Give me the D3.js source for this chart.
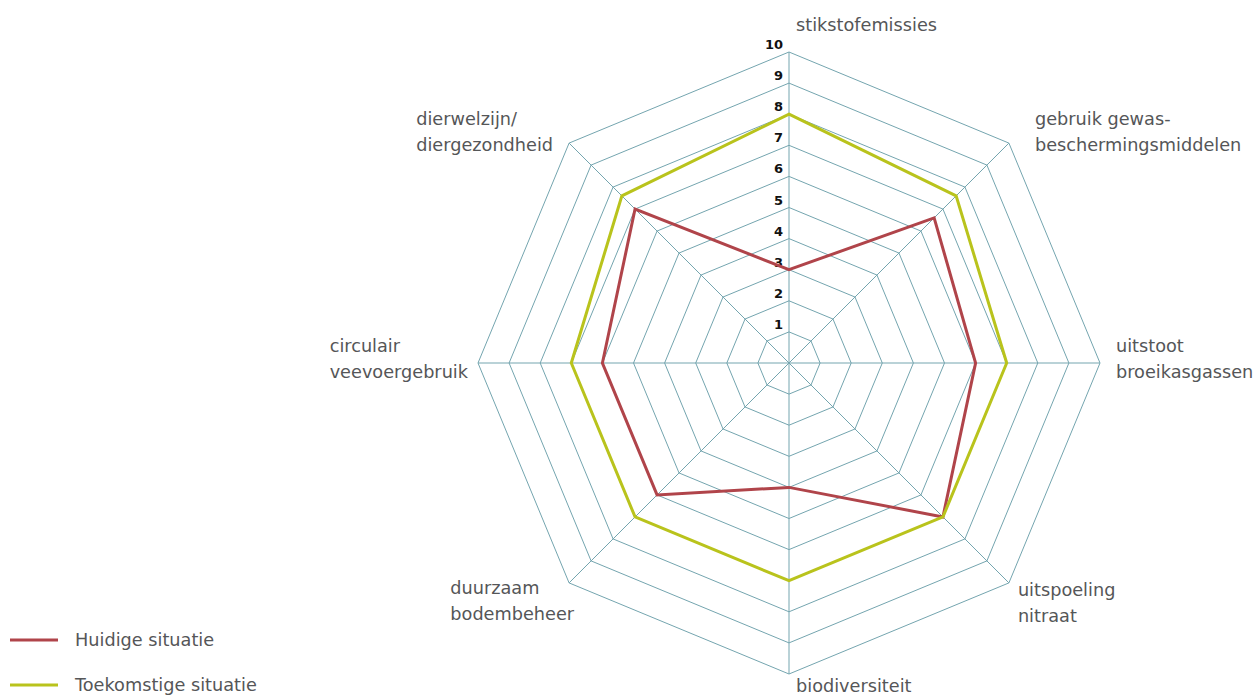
<!DOCTYPE html>
<html>
<head>
<meta charset="utf-8">
<script src="https://cdn.jsdelivr.net/npm/d3@7"></script>
<style>
  body { margin: 0; background: #fff; }
  text { font-family: "DejaVu Sans", sans-serif; }
</style>
</head>
<body>
<div id="chart"></div>
<script>
// axes, clockwise from the top
const axes = [
  ["stikstofemissies"],
  ["gebruik gewas-", "beschermingsmiddelen"],
  ["uitstoot", "broeikasgassen"],
  ["uitspoeling", "nitraat"],
  ["biodiversiteit"],
  ["duurzaam", "bodembeheer"],
  ["circulair", "veevoergebruik"],
  ["dierwelzijn/", "diergezondheid"]
];
const huidig = [3, 6.6, 6, 7, 4, 6, 6, 7];
const toekomst = [8, 7.6, 7, 7, 7, 7, 7, 7.6];
const levels = [1, 2, 3, 4, 5, 6, 7, 8, 9, 10];
const seriesNames = ["Huidige situatie", "Toekomstige situatie"];

const width = 1259;
const height = 699;
const cx = 789, cy = 363;
const gridColor = "#74a5af";
const colors = ["#b0444a", "#b9c31c"];

const svg = d3.select("#chart")
  .append("svg")
  .attr("width", width)
  .attr("height", height);

const r = d3.scaleLinear().domain([0, 10]).range([0, 311]);
const angle = d3.scaleLinear().domain([0, axes.length]).range([0, 2 * Math.PI]);

const pt = (i, v) => [cx + r(v) * Math.sin(angle(i)), cy - r(v) * Math.cos(angle(i))];

const line = d3.line().curve(d3.curveLinearClosed);

// grid
svg.append("g")
  .selectAll("path")
  .data(levels)
  .enter().append("path")
  .attr("d", l => line(axes.map((a, i) => pt(i, l))))
  .attr("fill", "none")
  .attr("stroke", gridColor)
  .attr("stroke-width", 1);

svg.append("g")
  .selectAll("line")
  .data(axes)
  .enter().append("line")
  .attr("x1", cx).attr("y1", cy)
  .attr("x2", (d, i) => pt(i, 10)[0])
  .attr("y2", (d, i) => pt(i, 10)[1])
  .attr("stroke", gridColor)
  .attr("stroke-width", 1);

// tick labels
svg.append("g")
  .selectAll("text")
  .data(levels)
  .enter().append("text")
  .attr("x", cx - 6)
  .attr("y", l => cy - r(l) - 3)
  .attr("text-anchor", "end")
  .style("font-size", "13px")
  .style("font-weight", "bold")
  .attr("fill", "#111")
  .text(l => l);

// series
[huidig, toekomst].forEach((vals, k) => {
  svg.append("path")
    .attr("d", line(vals.map((v, i) => pt(i, v))))
    .attr("fill", "none")
    .attr("stroke", colors[k])
    .attr("stroke-width", 3)
    .attr("stroke-linejoin", "miter");
});

// axis labels: offset from outer vertex, side = start / end block
const place = [
  { dx: 7, dy: -27, side: "start" },
  { dx: 26, dy: -24, side: "start" },
  { dx: 16, dy: -17, side: "start" },
  { dx: 9, dy: 7, side: "start" },
  { dx: 7, dy: 12, side: "start" },
  { dx: 5, dy: 5, side: "end" },
  { dx: -10, dy: -17, side: "end" },
  { dx: -16, dy: -24, side: "end" }
];
const lineH = 26;

axes.forEach((lines, i) => {
  const [vx, vy] = pt(i, 10);
  const p = place[i];
  const t = svg.append("text")
    .attr("fill", "#555658")
    .style("font-size", "17.7px");
  lines.forEach((s, j) => {
    t.append("tspan")
      .attr("x", vx + p.dx)
      .attr("y", vy + p.dy + 6 + j * lineH)
      .text(s);
  });
  if (p.side === "end") {
    const w = d3.max(t.selectAll("tspan").nodes(), n => n.getComputedTextLength());
    t.selectAll("tspan").attr("x", vx + p.dx - w);
  }
});

// legend
const legend = svg.append("g")
  .selectAll("g")
  .data(seriesNames)
  .enter().append("g")
  .attr("transform", (d, i) => `translate(0,${640 + i * 45})`);

legend.append("line")
  .attr("x1", 10).attr("x2", 58)
  .attr("stroke", (d, i) => colors[i])
  .attr("stroke-width", 3);

legend.append("text")
  .attr("x", 75)
  .attr("y", 6)
  .attr("fill", "#555658")
  .style("font-size", "17.7px")
  .text(d => d);
</script>
</body>
</html>
